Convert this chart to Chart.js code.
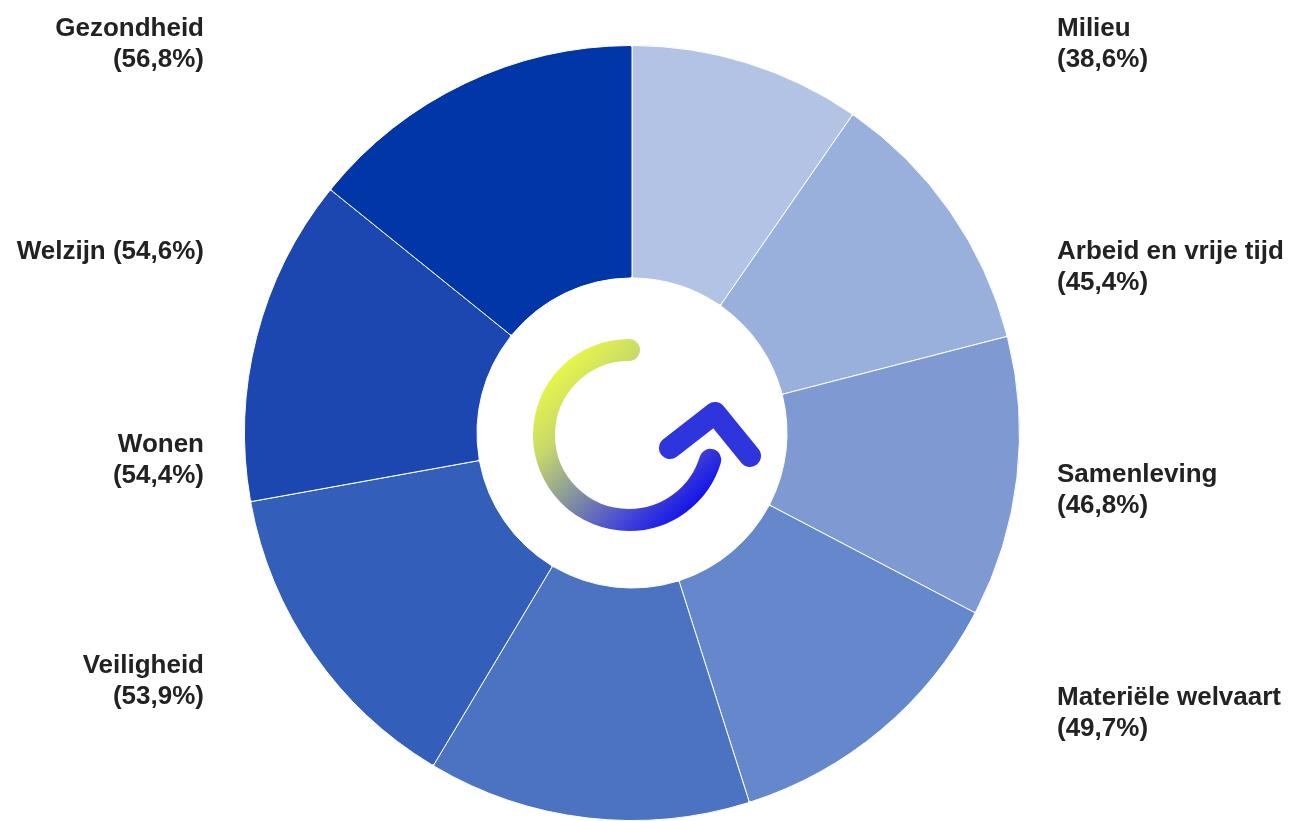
<!DOCTYPE html>
<html>
<head>
<meta charset="utf-8">
<script src="https://cdn.jsdelivr.net/npm/chart.js@4"></script>
<style>
  html, body { margin: 0; padding: 0; background: #fff; overflow: hidden; }
  #wrap { width: 1306px; height: 821px; }
</style>
</head>
<body>
<div id="wrap"><canvas id="mycan"></canvas></div>
<script>
// data, clockwise from the top
var categories = ['Milieu', 'Arbeid en vrije tijd', 'Samenleving', 'Materiële welvaart',
                  'Veiligheid', 'Wonen', 'Welzijn', 'Gezondheid'];
var scores = [38.6, 45.4, 46.8, 49.7, 53.9, 54.4, 54.6, 56.8];
var sliceColors = ['#b3c3e6', '#99b0dc', '#7f9ad3', '#6587cc',
                   '#4c72c2', '#335fba', '#1c47b0', '#0036a8'];

// where each label goes (x, first baseline, align, one line or two)
var labelPos = [
  {x: 1057, y: 36,  align: 'left',  oneLine: false},
  {x: 1057, y: 259, align: 'left',  oneLine: false},
  {x: 1057, y: 482, align: 'left',  oneLine: false},
  {x: 1057, y: 705, align: 'left',  oneLine: false},
  {x: 204,  y: 673, align: 'right', oneLine: false},
  {x: 204,  y: 452, align: 'right', oneLine: false},
  {x: 204,  y: 259, align: 'right', oneLine: true},
  {x: 204,  y: 36,  align: 'right', oneLine: false}
];

function pct(v) {
  return '(' + v.toFixed(1).replace('.', ',') + '%)';
}

var sideLabels = {
  id: 'sideLabels',
  afterDraw: function(chart) {
    var ctx = chart.ctx;
    ctx.save();
    ctx.fillStyle = '#222';
    ctx.font = 'bold 26px "Liberation Sans", Arial, sans-serif';
    ctx.textBaseline = 'alphabetic';
    for (var i = 0; i < categories.length; i++) {
      var p = labelPos[i];
      ctx.textAlign = p.align;
      if (p.oneLine) {
        ctx.fillText(categories[i] + ' ' + pct(scores[i]), p.x, p.y);
      } else {
        ctx.fillText(categories[i], p.x, p.y);
        ctx.fillText(pct(scores[i]), p.x, p.y + 31);
      }
    }
    ctx.restore();
  }
};

// the little logo in the hole
var centerLogo = {
  id: 'centerLogo',
  afterDraw: function(chart) {
    var arc = chart.getDatasetMeta(0).data[0];
    var cx = arc.x, cy = arc.y;
    var ctx = chart.ctx;
    ctx.save();
    ctx.lineCap = 'round';
    ctx.lineJoin = 'round';
    ctx.lineWidth = 22;

    var g = ctx.createLinearGradient(cx - 84, cy - 73, cx + 60, cy + 71);
    g.addColorStop(0, '#eeff40');
    g.addColorStop(0.3, '#c8d86a');
    g.addColorStop(0.58, '#7f8ea2');
    g.addColorStop(0.8, '#4a4ed2');
    g.addColorStop(1, '#1818e6');
    ctx.strokeStyle = g;
    ctx.beginPath();
    ctx.arc(cx - 3, cy + 2, 85, -Math.PI / 2, 17 * Math.PI / 180, true);
    ctx.stroke();

    ctx.strokeStyle = '#2e35dc';
    ctx.beginPath();
    ctx.moveTo(cx + 38, cy + 15);
    ctx.lineTo(cx + 83, cy - 20);
    ctx.lineTo(cx + 118, cy + 23);
    ctx.stroke();
    ctx.restore();
  }
};

var ctx = document.getElementById('mycan');
var chart = new Chart(ctx, {
  type: 'doughnut',
  data: {
    labels: categories,
    datasets: [{
      data: scores,
      backgroundColor: sliceColors,
      borderColor: '#ffffff',
      borderWidth: 1,
      borderRadius: 2
    }]
  },
  options: {
    responsive: true,
    maintainAspectRatio: false,
    animation: false,
    cutout: '40%',
    layout: { padding: { top: 45, bottom: 0, left: 244, right: 286 } },
    plugins: {
      legend: { display: false },
      tooltip: { enabled: false }
    },
    events: []
  },
  plugins: [sideLabels, centerLogo]
});
</script>
</body>
</html>
